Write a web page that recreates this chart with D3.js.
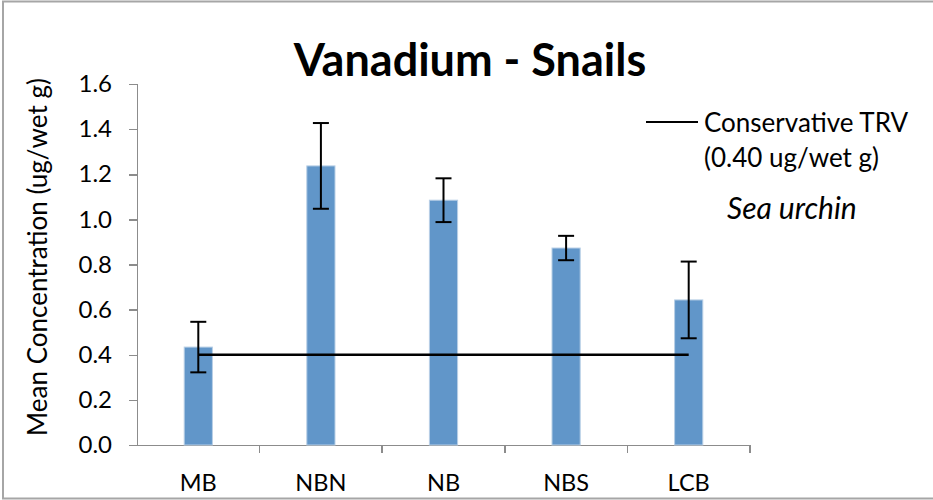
<!DOCTYPE html>
<html lang="en">
    <head>
        <meta charset="utf-8">
        <title>Vanadium - Snails</title>
        <script type="text/javascript" src="https://cdn.jsdelivr.net/npm/d3@7"></script>
        <style type="text/css">
            body { margin: 0; background: #fff; }
            text { font-family: Lato, "Open Sans", sans-serif; fill: #000; }
            .axis path,
            .axis line {
                fill: none;
                stroke: #8c8c8c;
                stroke-width: 1.5;
                shape-rendering: crispEdges;
            }
        </style>
    </head>
    <body>
        <script type="text/javascript">
            // site names along the x axis
            var sites = ["MB", "NBN", "NB", "NBS", "LCB"];
            // mean concentration per site (ug/wet g)
            var means = [0.434, 1.237, 1.085, 0.873, 0.643];
            // error bar half-width per site
            var errors = [0.112, 0.190, 0.097, 0.054, 0.170];
            // conservative TRV threshold
            var trv = 0.40;
            var yTicks = [0, 0.2, 0.4, 0.6, 0.8, 1.0, 1.2, 1.4, 1.6];

            var W = 933, H = 500;
            var margin = {top: 84, right: 183, bottom: 55, left: 137};
            var width = W - margin.left - margin.right;
            var height = H - margin.top - margin.bottom;

            var svg = d3.select("body")
                        .append("svg")
                            .attr("width", W)
                            .attr("height", H);

            // outer frame of the chart area (no right edge in the picture)
            svg.append("path")
                .attr("d", "M" + W + ",1.5 H3 V498.5 H" + W)
                .attr("fill", "none")
                .attr("stroke", "#a6a6a6")
                .attr("stroke-width", 2);

            var g = svg.append("g")
                .attr("transform", "translate(" + margin.left + "," + margin.top + ")");

            var x = d3.scaleBand().domain(sites).range([0, width]).paddingInner(0.77).paddingOuter(0.385);
            var xStep = d3.scaleBand().domain(sites).range([0, width]);
            var y = d3.scaleLinear().domain([0, 1.6]).range([height, 0]);

            // y axis
            var yAxis = d3.axisLeft(y).tickValues(yTicks).tickFormat(d3.format(".1f"))
                          .tickSize(8).tickSizeOuter(8).tickPadding(17);
            var gy = g.append("g").attr("class", "axis").call(yAxis);
            gy.selectAll("text").style("font-size", "24px");

            // x axis, labels centred and ticks on band edges
            var xAxis = d3.axisBottom(xStep).tickSize(0).tickSizeOuter(0).tickPadding(29);
            var gx = g.append("g").attr("class", "axis")
                .attr("transform", "translate(0," + height + ")")
                .call(xAxis);
            gx.selectAll("text").style("font-size", "23.5px");
            gx.selectAll(".edge")
                .data(sites)
              .enter().append("line")
                .attr("class", "edge")
                .attr("x1", function(d) { return xStep(d) + xStep.bandwidth(); })
                .attr("x2", function(d) { return xStep(d) + xStep.bandwidth(); })
                .attr("y1", 0)
                .attr("y2", 8);

            // bars
            g.selectAll(".bar")
                .data(sites)
              .enter().append("rect")
                .attr("class", "bar")
                .attr("x", function(d) { return x(d); })
                .attr("width", x.bandwidth())
                .attr("y", function(d, i) { return y(means[i]); })
                .attr("height", function(d, i) { return height - y(means[i]); })
                .attr("fill", "#6196c9")
                .attr("stroke", "#b8cfe6")
                .attr("stroke-width", 1);

            // error bars
            var cx = function(d) { return xStep(d) + xStep.bandwidth() / 2; };
            var err = g.selectAll(".err")
                .data(sites)
              .enter().append("g")
                .attr("class", "err")
                .attr("stroke", "#000")
                .attr("stroke-width", 2);
            err.append("line")
                .attr("x1", cx).attr("x2", cx)
                .attr("y1", function(d, i) { return y(means[i] + errors[i]); })
                .attr("y2", function(d, i) { return y(means[i] - errors[i]); });
            err.append("line")
                .attr("x1", function(d) { return cx(d) - 8; })
                .attr("x2", function(d) { return cx(d) + 8; })
                .attr("y1", function(d, i) { return y(means[i] + errors[i]); })
                .attr("y2", function(d, i) { return y(means[i] + errors[i]); });
            err.append("line")
                .attr("x1", function(d) { return cx(d) - 8; })
                .attr("x2", function(d) { return cx(d) + 8; })
                .attr("y1", function(d, i) { return y(means[i] - errors[i]); })
                .attr("y2", function(d, i) { return y(means[i] - errors[i]); });

            // TRV line from first to last site
            g.append("line")
                .attr("x1", cx(sites[0]))
                .attr("x2", cx(sites[sites.length - 1]))
                .attr("y1", y(trv))
                .attr("y2", y(trv))
                .attr("stroke", "#000")
                .attr("stroke-width", 2.5);

            // title
            svg.append("text")
                .attr("x", 470)
                .attr("y", 76)
                .attr("text-anchor", "middle")
                .style("font-size", "45px")
                .style("font-weight", "bold")
                .text("Vanadium - Snails");

            // y axis title
            svg.append("text")
                .attr("transform", "translate(47,257) rotate(-90)")
                .attr("text-anchor", "middle")
                .style("font-size", "26px")
                .text("Mean Concentration (ug/wet g)");

            // legend
            svg.append("line")
                .attr("x1", 646).attr("x2", 698)
                .attr("y1", 122).attr("y2", 122)
                .attr("stroke", "#000")
                .attr("stroke-width", 2);
            svg.append("text")
                .attr("x", 704).attr("y", 132)
                .style("font-size", "26px")
                .text("Conservative TRV");
            svg.append("text")
                .attr("x", 704).attr("y", 167)
                .style("font-size", "26px")
                .text("(" + trv.toFixed(2) + " ug/wet g)");
            svg.append("text")
                .attr("x", 727).attr("y", 219)
                .style("font-size", "30px")
                .style("font-style", "italic")
                .text("Sea urchin");
        </script>
    </body>
</html>
